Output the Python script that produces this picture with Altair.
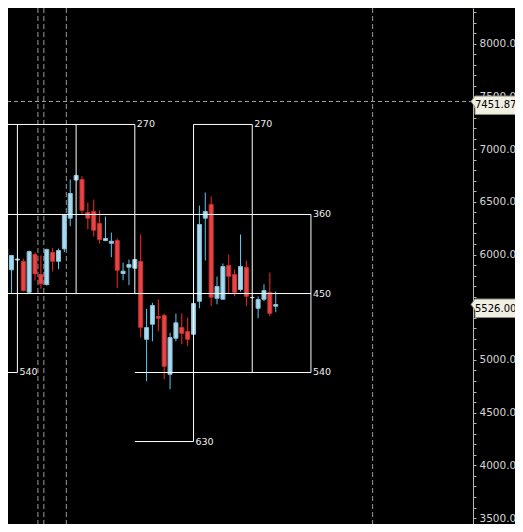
import altair as alt
import pandas as pd
import numpy as np

# ---- candle data (bar index, OHLC) ----
bar_index = list(range(47))
opens  = [5858, 5855, 5948, 5934, 5642, 6000, 5810, 5715, 6019, 5936,
          6054, 6345, 6707, 6712, 6399, 6408, 6294, 6133, 6107, 6133,
          5820, 5880, 5870, 5934, 5196, 5339, 5412, 5421, 4864, 5206,
          5307, 5269, 5244, 5557, 6345, 6474, 5585, 5576, 5896, 5810,
          5668, 5877, 5592, 5490, 5576, 5640, 5510]
highs  = [6095, 5997, 5962, 5959, 6038, 6019, 5991, 6057, 6064, 6057,
          6386, 6712, 6759, 6743, 6493, 6522, 6418, 6361, 6209, 6152,
          5924, 5953, 5957, 6190, 5485, 5542, 5573, 5440, 5257, 5440,
          5440, 5402, 5545, 6465, 6588, 6550, 5791, 5915, 6000, 5858,
          6190, 5943, 5602, 5602, 5718, 5829, 5649]
lows   = [5829, 5633, 5943, 5649, 5633, 5753, 5675, 5706, 5839, 5861,
          6022, 6269, 6702, 6389, 6240, 6171, 6104, 6126, 5974, 5680,
          5756, 5709, 5867, 5215, 4798, 5177, 5272, 4817, 4722, 5177,
          5149, 5130, 5241, 5490, 5943, 5510, 5528, 5573, 5633, 5604,
          5649, 5510, 5583, 5396, 5557, 5415, 5453]
closes = [6054, 5991, 5957, 5658, 6028, 5817, 5722, 6047, 5936, 6038,
          6377, 6579, 6750, 6420, 6345, 6231, 6142, 6152, 6126, 5851,
          5842, 5905, 5953, 5310, 5307, 5516, 5396, 4940, 5212, 5352,
          5253, 5196, 5535, 6285, 6408, 5595, 5696, 5886, 5794, 5642,
          5886, 5604, 5592, 5573, 5658, 5443, 5526]

# ---- Gann box segments (bar index / price) ----
seg_k1 = [-3, 32, -3, -3, -3, 22, 22, 2, 12, 22, 32, 42, 52]
seg_k2 = [22, 42, 52, 52, 2, 52, 32, 2, 12, 22, 32, 42, 52]
seg_v1 = [7234, 7234, 6380, 5630, 4881, 4881, 4226, 7234, 7234, 7234, 7234, 7234, 6380]
seg_v2 = [7234, 7234, 6380, 5630, 4881, 4881, 4226, 4881, 5630, 5630, 4226, 4881, 4881]

lab_text = ["270", "270", "360", "450", "540", "540", "630"]
lab_k    = [22, 42, 52, 52, 2, 52, 32]
lab_v    = [7234, 7234, 6380, 5630, 4881, 4881, 4226]

# ---- time separators (bar index) ----
sep_k = [5.5, 6.5, 10.333, 62.5]

# ---- price markers ----
marker_price = [7451.87]
price_labels = [7451.87, 5526.00]

candles = pd.DataFrame({"k": bar_index, "open": opens, "high": highs,
                        "low": lows, "close": closes})
candles["dir"] = np.where(candles["close"] > candles["open"], "up",
                          np.where(candles["close"] < candles["open"], "down", "flat"))
segs = pd.DataFrame({"k1": seg_k1, "k2": seg_k2, "v1": seg_v1, "v2": seg_v2})
labs = pd.DataFrame({"t": lab_text, "k": lab_k, "v": lab_v})
seps = pd.DataFrame({"k": sep_k})
marker = pd.DataFrame({"v": marker_price})
plabs = pd.DataFrame({"v": price_labels,
                      "t": [f"{p:.2f}" for p in price_labels]})

xscale = alt.Scale(domain=[1.25, 78.75], nice=False, zero=False)
yscale = alt.Scale(domain=[3443.6, 8338.9], nice=False, zero=False)
yaxis = alt.Axis(
    orient="right", title=None, grid=False,
    values=list(range(3500, 8301, 100)),
    labelExpr=("datum.value % 500 === 0 && datum.value !== 5500 "
               "? format(datum.value, '.2f') : ''"),
    tickSize=3, tickColor="#b8b8a8", domainColor="#b8b8a8",
    labelColor="#d4d4d4", labelFont="DejaVu Sans", labelFontSize=10.5,
    labelPadding=3, labelOverlap=False, labelBound=False, labelFlush=False,
)


def X(f):
    return alt.X(f, type="quantitative", scale=xscale, axis=None)


def Y(f):
    return alt.Y(f, type="quantitative", scale=yscale, axis=yaxis)


dirs = ["up", "down", "flat"]

sep_layer = alt.Chart(seps).mark_rule(
    color="#9a9a9a", strokeDash=[5, 3], strokeWidth=1
).encode(x=X("k"))

hline = alt.Chart(marker).mark_rule(
    color="#a0a0a0", strokeDash=[4, 3], strokeWidth=1
).encode(y=Y("v"))

wicks = alt.Chart(candles).mark_rule(strokeWidth=1).encode(
    x=X("k"), y=Y("low"), y2="high",
    color=alt.Color("dir:N", legend=None,
                    scale=alt.Scale(domain=dirs, range=["#5cc6f4", "#ff2525", "#d8d8c8"])),
)

bodies = alt.Chart(candles).mark_bar(size=4, strokeWidth=1).encode(
    x=X("k"), y=Y("open"), y2="close",
    fill=alt.Fill("dir:N", legend=None,
                  scale=alt.Scale(domain=dirs, range=["#a9d9ed", "#e84646", "#e8e8da"])),
    stroke=alt.Stroke("dir:N", legend=None,
                      scale=alt.Scale(domain=dirs, range=["#86c0da", "#c83030", "#c8c8b8"])),
)

gann = alt.Chart(segs).mark_rule(color="#ffffff", strokeWidth=1).encode(
    x=X("k1"), x2="k2", y=Y("v1"), y2="v2"
)

gann_labels = alt.Chart(labs).mark_text(
    align="left", baseline="middle", dx=2, color="#eeeeee",
    font="DejaVu Sans", fontSize=9.5
).encode(x=X("k"), y=Y("v"), text="t:N")

box_path = ("M-1,0 L-0.846,-0.2115 L1.2,-0.2115 L1.2,0.5 "
            "L-0.846,0.5 L-0.846,0.2115 Z")
pboxes = alt.Chart(plabs).mark_point(
    shape=box_path, size=2704, filled=True, fill="#efefe2",
    stroke="#8a8a80", strokeWidth=1, opacity=1
).encode(x=alt.value(489), y=Y("v"))

ptexts = alt.Chart(plabs).mark_text(
    align="left", baseline="middle", dy=4, color="#000000",
    font="DejaVu Sans", fontSize=10
).encode(x=alt.value(467), y=Y("v"), text="t:N")

chart = alt.layer(
    sep_layer, hline, wicks, bodies, gann, gann_labels, pboxes, ptexts
).properties(
    width=465, height=516,
    padding={"left": 0, "top": 0, "right": 42, "bottom": 0},
    autosize=alt.AutoSizeParams(type="none"),
    background="#000000",
).configure_view(strokeWidth=0)

chart.save("out.html", embed_options={"renderer": "svg", "actions": False})
